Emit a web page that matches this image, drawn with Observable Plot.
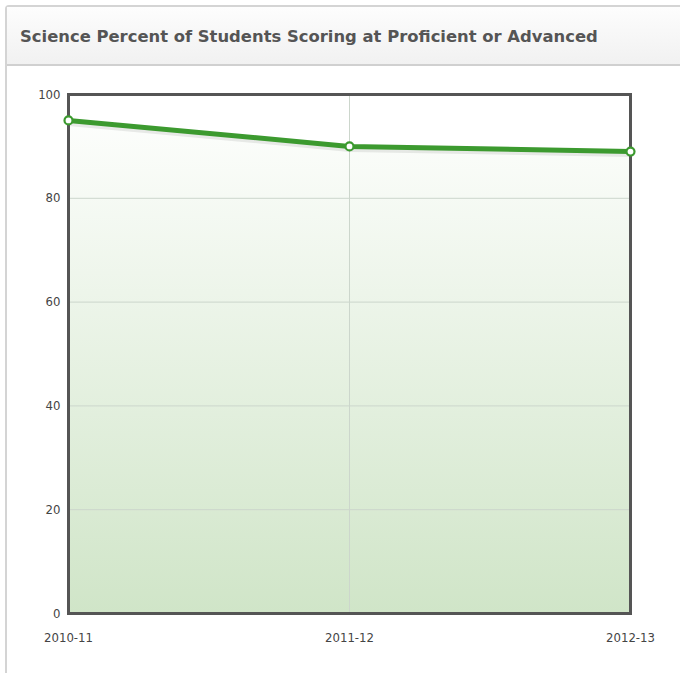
<!DOCTYPE html>
<html>
<head>
<meta charset="utf-8">
<script src="https://cdn.jsdelivr.net/npm/d3@7"></script>
<script src="https://cdn.jsdelivr.net/npm/@observablehq/plot@0.6"></script>
<style>
  html, body { margin: 0; padding: 0; background: #fff; width: 680px; height: 673px; overflow: hidden; }
  #panel { position: absolute; left: 5px; top: 5px; width: 700px; height: 700px; border: 2px solid #d4d4d4; border-radius: 4px; box-sizing: border-box; }
  #header { position: absolute; left: 0; top: 0; right: 0; height: 57px; background: linear-gradient(#fdfdfd, #f1f1f1); border-bottom: 2px solid #d0d0d0; }
  #title { position: absolute; left: 13px; top: 20px; font-family: "DejaVu Sans", Verdana, sans-serif; font-weight: bold; font-size: 16.4px; color: #555; white-space: nowrap; }
  #chart { position: absolute; left: 0; top: 65px; }
  #chart svg text { font-family: "Liberation Sans Narrow", "DejaVu Sans Condensed", sans-serif; font-size: 13px; fill: #444; }
</style>
</head>
<body>
<div id="panel"><div id="header"><div id="title">Science Percent of Students Scoring at Proficient or Advanced</div></div></div>
<div id="chart"></div>
<script>
const years = ["2010-11", "2011-12", "2012-13"];
const percents = [95, 90, 89];
const yTicks = [0, 20, 40, 60, 80, 100];

const data = years.map((y, i) => ({year: y, value: percents[i]}));

const W = 680, H = 608;
const mT = 29, mB = 60, mL = 68, mR = 50;

const gradientDefs = () => {
  const defs = d3.create("svg:defs");
  const g = defs.append("linearGradient").attr("id", "areaGrad")
    .attr("gradientUnits", "userSpaceOnUse")
    .attr("x1", 0).attr("x2", 0).attr("y1", mT).attr("y2", H - mB);
  g.append("stop").attr("offset", "0%").attr("stop-color", "#ffffff");
  g.append("stop").attr("offset", "100%").attr("stop-color", "#d0e5c8");
  return defs.node();
};

const plot = Plot.plot({
  width: W, height: H,
  marginTop: mT, marginBottom: mB, marginLeft: mL, marginRight: mR,
  style: {background: "transparent"},
  x: {type: "point", domain: years, padding: 0, label: null, tickSize: 0, tickPadding: 19},
  y: {domain: [0, 100], ticks: yTicks, label: null, tickSize: 0, tickPadding: 8},
  marks: [
    gradientDefs,
    Plot.areaY(data, {x: "year", y: "value", fill: "url(#areaGrad)"}),
    Plot.ruleY(yTicks.filter(d => d > 0 && d < 100), {stroke: "#ccd6cc", strokeWidth: 1}),
    Plot.ruleX(years.slice(1, -1), {stroke: "#ccd6cc", strokeWidth: 1}),
    Plot.line(data, {x: "year", y: "value", stroke: "#000", strokeOpacity: 0.08, strokeWidth: 7, dy: 2}),
    Plot.line(data, {x: "year", y: "value", stroke: "#3c9a2f", strokeWidth: 5}),
    Plot.frame({stroke: "#555", strokeWidth: 3}),
    Plot.dot(data, {x: "year", y: "value", r: 4, fill: "#fff", stroke: "#3c9a2f", strokeWidth: 2.2})
  ]
});
document.getElementById("chart").appendChild(plot);
</script>
</body>
</html>
